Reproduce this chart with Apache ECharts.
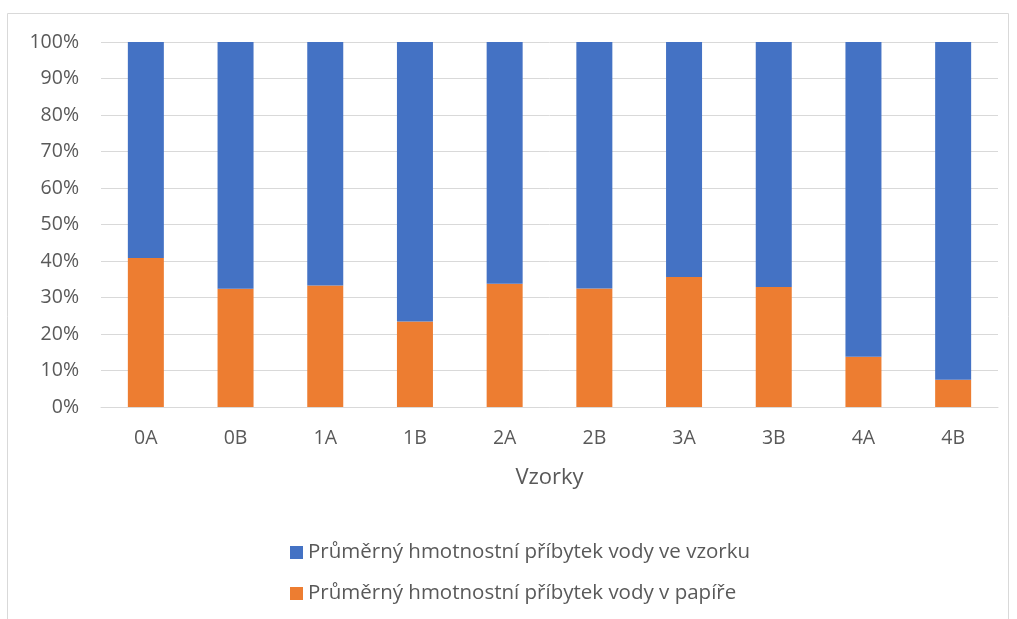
<!DOCTYPE html>
<html>
<head>
<meta charset="utf-8">
<script src="https://cdn.jsdelivr.net/npm/echarts@6/dist/echarts.min.js"></script>
<style>
  html, body { margin: 0; padding: 0; background: #fff; }
  #chart { width: 1017px; height: 619px; }
</style>
</head>
<body>
<div id="chart"></div>
<script>
const categories = ['0A', '0B', '1A', '1B', '2A', '2B', '3A', '3B', '4A', '4B']
// podíl v %
const papir = [40.8, 32.4, 33.3, 23.4, 33.8, 32.5, 35.6, 32.9, 13.8, 7.5]
const vzorek = [59.2, 67.6, 66.7, 76.6, 66.2, 67.5, 64.4, 67.1, 86.2, 92.5]
const seriesNames = ['Průměrný hmotnostní příbytek vody ve vzorku', 'Průměrný hmotnostní příbytek vody v papíře']

const font = 'Open Sans'
const textColor = '#595959'

const myChart = echarts.init(document.getElementById('chart'))
const option = {
  animation: false,
  textStyle: { fontFamily: font },
  graphic: [
    {
      type: 'rect',
      shape: { x: 7.5, y: 13.5, width: 1001, height: 640 },
      style: { fill: 'none', stroke: '#d9d9d9', lineWidth: 1 },
      silent: true
    }
  ],
  grid: {
    left: 101,
    right: 19,
    top: 42,
    bottom: 212
  },
  legend: {
    orient: 'vertical',
    left: 285,
    top: 537,
    itemWidth: 13,
    itemHeight: 13,
    itemGap: 20,
    icon: 'rect',
    textStyle: { fontFamily: font, fontSize: 20.5, color: textColor },
    data: [seriesNames[0], seriesNames[1]]
  },
  xAxis: {
    type: 'category',
    data: categories,
    name: 'Vzorky',
    nameLocation: 'middle',
    nameGap: 60,
    nameTextStyle: { fontFamily: font, fontSize: 22, color: textColor },
    axisLine: { lineStyle: { color: '#d9d9d9', width: 1 } },
    axisTick: { show: false },
    axisLabel: { fontFamily: font, fontSize: 19.5, color: textColor, margin: 21 }
  },
  yAxis: {
    type: 'value',
    min: 0,
    max: 100,
    interval: 10,
    axisLine: { show: false },
    axisTick: { show: false },
    axisLabel: {
      fontFamily: font,
      fontSize: 19.5,
      color: textColor,
      margin: 22,
      formatter: '{value}%'
    },
    splitLine: { lineStyle: { color: '#d9d9d9', width: 1 } }
  },
  series: [
    {
      name: seriesNames[1],
      type: 'bar',
      stack: 'total',
      barWidth: 36,
      data: papir,
      itemStyle: { color: '#ed7d31' }
    },
    {
      name: seriesNames[0],
      type: 'bar',
      stack: 'total',
      barWidth: 36,
      data: vzorek,
      itemStyle: { color: '#4472c4' }
    }
  ]
}
option && myChart.setOption(option)
</script>
</body>
</html>
